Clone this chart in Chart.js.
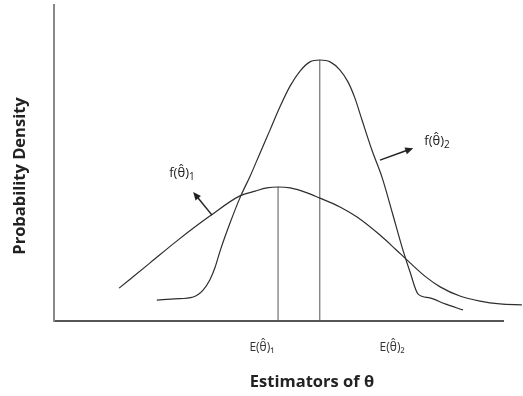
<!DOCTYPE html>
<html><head><meta charset="utf-8">
<script src="https://cdn.jsdelivr.net/npm/chart.js@4/dist/chart.umd.min.js"></script>
<style>html,body{margin:0;padding:0;background:#fff}#wrap{width:523px;height:396px}</style>
</head><body><div id="wrap"><canvas id="c" width="523" height="396"></canvas></div>
<script>
// Wide (less efficient) estimator density f(θ̂)1
const wideX = [1.45,2.14,2.76,3.47,4.14,4.48,4.74,4.99,5.26,5.59,5.92,6.37,6.75,7.26,7.60,7.93,8.26,8.60,9.04,9.49,9.93,10.42];
const wideY = [0.104,0.184,0.256,0.332,0.396,0.411,0.421,0.424,0.421,0.408,0.389,0.361,0.329,0.272,0.228,0.184,0.142,0.108,0.079,0.063,0.054,0.051];
// Narrow estimator density f(θ̂)2
const narrowX = [2.29,2.69,3.10,3.32,3.47,3.59,3.70,3.92,4.16,4.37,4.59,4.81,5.03,5.26,5.48,5.70,5.92,6.15,6.37,6.55,6.70,6.86,7.08,7.31,7.53,7.77,7.93,8.11,8.37,8.71,9.11];
const narrowY = [0.066,0.070,0.076,0.098,0.130,0.171,0.222,0.310,0.396,0.459,0.532,0.604,0.677,0.744,0.791,0.820,0.826,0.820,0.794,0.756,0.706,0.636,0.541,0.453,0.345,0.225,0.155,0.085,0.073,0.054,0.035];
// Expected values (vertical lines) and their heights
const expectedX = [4.99, 5.92];
const expectedTop = [0.424, 0.826];
// Tick labels on the x axis
const tickLabels = ['E(θ̂)₁', 'E(θ̂)₂'];
const tickPositions = [4.63, 7.53];
// Axis titles
const xTitle = 'Estimators of θ';
const yTitle = 'Probability Density';
// Curve labels and arrows
const curveLabels = ['f(θ̂)', 'f(θ̂)'];
const curveSubs = ['1', '2'];
const labelX = [2.85, 8.53];
const labelY = [0.472, 0.573];
const arrowFromX = [3.52, 7.26], arrowFromY = [0.335, 0.509];
const arrowToX = [3.10, 8.00], arrowToY = [0.408, 0.547];

const lineColor = '#2e2e2e';
const pts = (xs, ys) => xs.map((v, i) => ({x: v, y: ys[i]}));

const datasets = [
  {data: pts(wideX, wideY), showLine: true, borderColor: lineColor, borderWidth: 1.2, pointRadius: 0, cubicInterpolationMode: 'monotone', clip: false},
  {data: pts(narrowX, narrowY), showLine: true, borderColor: lineColor, borderWidth: 1.2, pointRadius: 0, cubicInterpolationMode: 'monotone', clip: false}
];
expectedX.forEach((v, i) => datasets.push({data: [{x: v, y: 0}, {x: v, y: expectedTop[i]}], showLine: true, borderColor: '#555', borderWidth: 1, pointRadius: 0, tension: 0}));

const annot = {
  id: 'annot',
  afterDatasetsDraw(chart) {
    const {ctx, scales: {x, y}} = chart;
    ctx.save();
    // arrows
    for (let i = 0; i < arrowFromX.length; i++) {
      const x1 = x.getPixelForValue(arrowFromX[i]), y1 = y.getPixelForValue(arrowFromY[i]);
      const x2 = x.getPixelForValue(arrowToX[i]), y2 = y.getPixelForValue(arrowToY[i]);
      const a = Math.atan2(y2 - y1, x2 - x1);
      const hl = 8, hw = 3.5;
      ctx.strokeStyle = '#222'; ctx.fillStyle = '#222'; ctx.lineWidth = 1.5;
      ctx.beginPath(); ctx.moveTo(x1, y1);
      ctx.lineTo(x2 - Math.cos(a) * hl * 0.8, y2 - Math.sin(a) * hl * 0.8); ctx.stroke();
      ctx.beginPath();
      ctx.moveTo(x2, y2);
      ctx.lineTo(x2 - Math.cos(a) * hl - Math.sin(a) * hw, y2 - Math.sin(a) * hl + Math.cos(a) * hw);
      ctx.lineTo(x2 - Math.cos(a) * hl + Math.sin(a) * hw, y2 - Math.sin(a) * hl - Math.cos(a) * hw);
      ctx.closePath(); ctx.fill();
    }
    // curve labels
    ctx.fillStyle = '#222';
    ctx.textBaseline = 'alphabetic';
    ctx.textAlign = 'left';
    for (let i = 0; i < curveLabels.length; i++) {
      const cx = x.getPixelForValue(labelX[i]), cy = y.getPixelForValue(labelY[i]);
      ctx.font = '13px "Open Sans"';
      const w1 = ctx.measureText(curveLabels[i]).width;
      ctx.font = '10px "Open Sans"';
      const w2 = ctx.measureText(curveSubs[i]).width;
      const left = cx - (w1 + w2) / 2;
      ctx.font = '13px "Open Sans"';
      ctx.fillText(curveLabels[i], left, cy + 5);
      ctx.font = '10px "Open Sans"';
      ctx.fillText(curveSubs[i], left + w1, cy + 8);
    }
    // axis titles
    ctx.fillStyle = '#222';
    ctx.font = 'bold 16.5px "Open Sans"';
    ctx.textAlign = 'center';
    ctx.textBaseline = 'middle';
    ctx.fillText(xTitle, 312, 382);
    ctx.translate(20, 176);
    ctx.rotate(-Math.PI / 2);
    ctx.fillText(yTitle, 0, 0);
    ctx.restore();
  }
};

new Chart(document.getElementById('c'), {
  type: 'scatter',
  data: {datasets},
  options: {
    responsive: false,
    devicePixelRatio: 1,
    animation: false,
    layout: {padding: {left: 0, right: 20, top: 5, bottom: 0}},
    plugins: {legend: {display: false}, tooltip: {enabled: false}},
    scales: {
      x: {
        type: 'linear', min: 0, max: 10,
        grid: {display: false, drawTicks: false},
        border: {display: true, color: '#555', width: 2},
        afterBuildTicks: s => { s.ticks = tickPositions.map(v => ({value: v})); },
        ticks: {
          autoSkip: false, maxRotation: 0, padding: 19, color: '#333',
          font: {family: 'Open Sans', size: 12},
          callback: (v, i) => tickLabels[i]
        },
        title: {display: false, text: xTitle},
        afterFit: s => { s.height = 75; }
      },
      y: {
        min: 0, max: 1,
        grid: {display: false, drawTicks: false},
        border: {display: true, color: '#888', width: 2},
        ticks: {display: false},
        title: {display: false, text: yTitle},
        afterFit: s => { s.width = 54; }
      }
    }
  },
  plugins: [annot]
});
</script>
</body></html>
